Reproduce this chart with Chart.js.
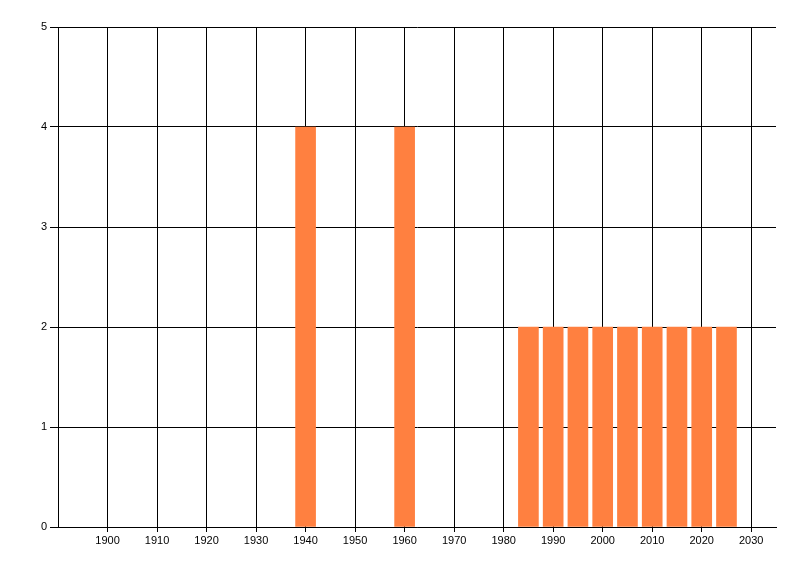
<!DOCTYPE html>
<html>
<head>
<meta charset="utf-8">
<script src="https://cdn.jsdelivr.net/npm/chart.js@4"></script>
<style>
  html, body { margin: 0; padding: 0; background: #fff; }
  #wrap { width: 800px; height: 576px; }
</style>
</head>
<body>
<div id="wrap"><canvas id="chart" width="800" height="576"></canvas></div>
<script>
// Data
const years = [1940, 1960, 1985, 1990, 1995, 2000, 2005, 2010, 2015, 2020, 2025];
const counts = [4, 4, 2, 2, 2, 2, 2, 2, 2, 2, 2];
const xTicks = [1900, 1910, 1920, 1930, 1940, 1950, 1960, 1970, 1980, 1990, 2000, 2010, 2020, 2030];
const yTicks = [0, 1, 2, 3, 4, 5];

Chart.defaults.font.family = "'Liberation Sans', Arial, sans-serif";
Chart.defaults.font.size = 11;
Chart.defaults.color = "#000";

const ctx = document.getElementById("chart");

new Chart(ctx, {
  type: "bar",
  data: {
    datasets: [{
      data: years.map((y, i) => ({ x: y, y: counts[i] })),
      backgroundColor: "rgb(255,128,64)",
      barThickness: 20
    }]
  },
  options: {
    responsive: false,
    animation: false,
    layout: { padding: { top: 27, right: 24, left: 0, bottom: 0 } },
    plugins: { legend: { display: false }, tooltip: { enabled: false } },
    scales: {
      x: {
        type: "linear",
        min: 1890,
        max: 2035,
        offset: false,
        afterBuildTicks: scale => { scale.ticks = xTicks.map(v => ({ value: v })); },
        afterFit: scale => { scale.height = 49; },
        ticks: { callback: v => String(v), maxRotation: 0, autoSkip: false, padding: 2 },
        grid: { offset: false, color: "#000", lineWidth: 1, tickLength: 5 },
        border: { color: "#000", width: 1 }
      },
      y: {
        min: 0,
        max: 5,
        afterBuildTicks: scale => { scale.ticks = yTicks.map(v => ({ value: v })); },
        afterFit: scale => { scale.width = 58; },
        ticks: { padding: 3 },
        grid: { color: "#000", lineWidth: 1, tickLength: 8 },
        border: { color: "#000", width: 1 }
      }
    }
  }
});
</script>
</body>
</html>
